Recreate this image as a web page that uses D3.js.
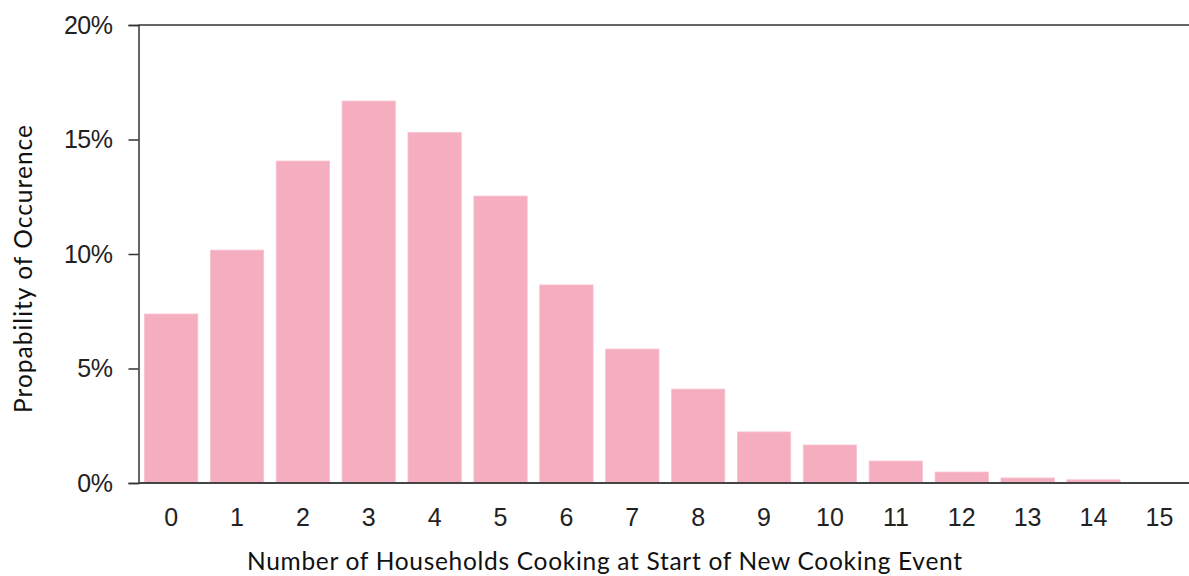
<!DOCTYPE html>
<html><head><meta charset="utf-8">
<script src="https://cdn.jsdelivr.net/npm/d3@7"></script>
<style>body{margin:0;background:#fff}svg{display:block}</style>
</head><body>
<svg id="c" width="1189" height="576"></svg>
<script>
const categories = ["0","1","2","3","4","5","6","7","8","9","10","11","12","13","14","15"];
const values = [7.38, 10.17, 14.06, 16.68, 15.31, 12.53, 8.65, 5.85, 4.10, 2.23, 1.66, 0.96, 0.48, 0.22, 0.14, 0.0];
const yTicks = [0, 5, 10, 15, 20];

(function () {
const svg = d3.select("#c");
const mLeft = 138.5, mTop = 25, mBottom = 483, mRight = 1192;
const x = d3.scaleBand().domain(categories).range([mLeft, mRight]).paddingInner(0.19).paddingOuter(0.09);
const y = d3.scaleLinear().domain([0, 20]).range([mBottom, mTop]);

svg.append("g").selectAll("rect").data(values).join("rect")
  .attr("x", (d, i) => x(categories[i]))
  .attr("y", d => y(d))
  .attr("width", x.bandwidth())
  .attr("height", d => mBottom - y(d))
  .attr("fill", "#f5adc0")
  .attr("stroke", "#f8c4d2").attr("stroke-width", 0.8);

svg.append("line").attr("x1", mLeft).attr("x2", 1189).attr("y1", mTop).attr("y2", mTop)
  .attr("stroke", "#333").attr("stroke-width", 1.5);

const yAxis = svg.append("g").attr("transform", `translate(${mLeft},0)`)
  .call(d3.axisLeft(y).tickValues(yTicks).tickFormat(d => d + "%").tickSize(10).tickPadding(16));
yAxis.select(".domain").attr("stroke", "#333").attr("stroke-width", 1.5);
yAxis.selectAll(".tick line").attr("stroke", "#333").attr("stroke-width", 1.5);
yAxis.selectAll("text").attr("font-family", "Liberation Sans, Arial, sans-serif").attr("font-size", 25).attr("fill", "#222").attr("letter-spacing", -0.5);

const xAxis = svg.append("g").attr("transform", `translate(0,${mBottom})`)
  .call(d3.axisBottom(x).tickSize(0).tickPadding(25));
xAxis.select(".domain").attr("d", `M${mLeft},0H1189`).attr("stroke", "#444").attr("stroke-width", 2.2);
xAxis.selectAll("text").attr("font-family", "Liberation Sans, Arial, sans-serif").attr("font-size", 25).attr("fill", "#222");

svg.append("text").attr("x", 604.5).attr("y", 570).attr("text-anchor", "middle")
  .attr("font-family", "Lato, sans-serif").attr("font-size", 24.5).attr("fill", "#111")
  .attr("textLength", 715).attr("lengthAdjust", "spacing")
  .text("Number of Households Cooking at Start of New Cooking Event");

svg.append("text").attr("transform", "translate(32,269) rotate(-90)").attr("text-anchor", "middle")
  .attr("font-family", "Lato, sans-serif").attr("font-size", 24.5).attr("fill", "#111")
  .attr("textLength", 288).attr("lengthAdjust", "spacing")
  .text("Propability of Occurence");
})();
</script>
</body></html>
